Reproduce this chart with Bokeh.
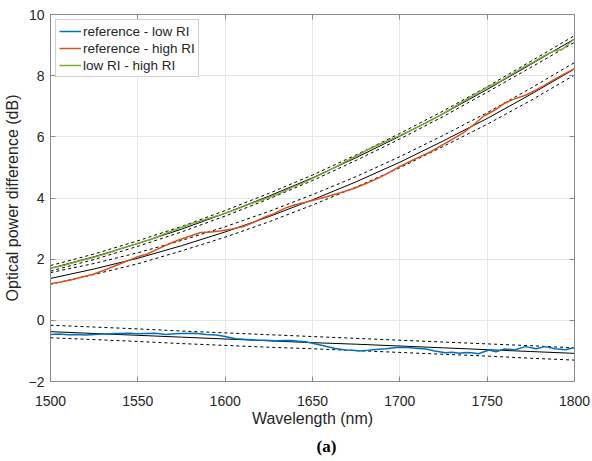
from bokeh.plotting import figure
from bokeh.models import LinearAxis, FixedTicker, Title, Legend, LegendItem
from bokeh.embed import file_html
from bokeh.resources import INLINE

# ---------------- data ----------------
x_ticks = [1500, 1550, 1600, 1650, 1700, 1750, 1800]
y_ticks = [-2, 0, 2, 4, 6, 8, 10]

blue_x = [1500, 1505, 1510, 1515, 1520, 1525, 1530, 1537, 1545, 1550, 1554, 1560, 1566, 1571,
          1575, 1583, 1589, 1595, 1600, 1606, 1611, 1617, 1623, 1629, 1634, 1638, 1642, 1646,
          1650, 1657, 1663, 1669, 1673, 1677, 1682, 1686, 1692, 1698, 1703, 1709, 1715, 1720,
          1726, 1730, 1734, 1738, 1741, 1745, 1751, 1755, 1760, 1766, 1772, 1778, 1783, 1789,
          1795, 1800]
blue_y = [-0.46, -0.45, -0.47, -0.46, -0.48, -0.46, -0.45, -0.43, -0.42, -0.44, -0.43, -0.42,
          -0.46, -0.44, -0.43, -0.42, -0.46, -0.48, -0.53, -0.60, -0.62, -0.64, -0.65, -0.67,
          -0.66, -0.66, -0.68, -0.70, -0.75, -0.84, -0.92, -0.97, -0.98, -1.00, -0.98, -0.95,
          -0.93, -0.89, -0.88, -0.91, -0.94, -1.00, -1.06, -1.04, -1.08, -1.05, -1.06, -1.09,
          -0.97, -1.03, -0.94, -0.96, -0.86, -0.93, -0.86, -0.93, -0.96, -0.89]

orange_x = [1500, 1506, 1512, 1518, 1524, 1530, 1536, 1542, 1549, 1555, 1561, 1567, 1573, 1580,
            1586, 1592, 1598, 1604, 1610, 1616, 1622, 1628, 1634, 1640, 1646, 1652, 1658, 1666,
            1674, 1681, 1688, 1694, 1700, 1706, 1712, 1718, 1724, 1730, 1736, 1742, 1748, 1754,
            1760, 1766, 1772, 1777, 1782, 1788, 1794, 1800]
orange_y = [1.20, 1.25, 1.33, 1.42, 1.50, 1.62, 1.76, 1.90, 2.06, 2.16, 2.32, 2.48, 2.62, 2.76,
            2.87, 2.89, 2.93, 2.99, 3.06, 3.20, 3.36, 3.49, 3.66, 3.78, 3.86, 3.95, 4.04, 4.17,
            4.32, 4.48, 4.66, 4.84, 5.03, 5.20, 5.36, 5.52, 5.72, 5.92, 6.12, 6.38, 6.68, 6.86,
            7.10, 7.25, 7.36, 7.50, 7.66, 7.86, 8.05, 8.23]

green_x = [1500, 1508, 1516, 1525, 1533, 1541, 1549, 1558, 1566, 1574, 1582, 1590, 1598, 1606,
           1614, 1622, 1630, 1638, 1644, 1650, 1658, 1666, 1674, 1681, 1690, 1700, 1708, 1716,
           1723, 1730, 1737, 1744, 1750, 1757, 1764, 1771, 1777, 1783, 1788, 1793, 1797, 1800]
green_y = [1.70, 1.80, 1.93, 2.06, 2.20, 2.36, 2.50, 2.66, 2.84, 3.02, 3.18, 3.32, 3.46, 3.62,
           3.80, 3.96, 4.12, 4.34, 4.48, 4.64, 4.86, 5.10, 5.34, 5.56, 5.80, 6.04, 6.26, 6.48,
           6.70, 6.94, 7.18, 7.42, 7.62, 7.80, 8.04, 8.28, 8.46, 8.66, 8.80, 8.86, 9.06, 9.20]

fit_x = [1500, 1525, 1550, 1575, 1600, 1625, 1650, 1675, 1700, 1725, 1750, 1775, 1800]
green_fit = [1.70, 2.08, 2.51, 2.98, 3.50, 4.06, 4.66, 5.32, 6.02, 6.76, 7.55, 8.37, 9.20]
green_up = [1.79, 2.17, 2.60, 3.07, 3.59, 4.15, 4.75, 5.41, 6.11, 6.85, 7.64, 8.47, 9.31]
green_lo = [1.61, 1.99, 2.42, 2.89, 3.41, 3.97, 4.57, 5.23, 5.93, 6.67, 7.46, 8.27, 9.09]
orange_fit = [1.37, 1.68, 2.03, 2.44, 2.89, 3.39, 3.94, 4.53, 5.17, 5.87, 6.60, 7.39, 8.22]
orange_up = [1.56, 1.86, 2.21, 2.61, 3.06, 3.56, 4.11, 4.70, 5.35, 6.05, 6.79, 7.59, 8.43]
orange_lo = [1.18, 1.50, 1.85, 2.27, 2.72, 3.22, 3.77, 4.36, 4.99, 5.69, 6.41, 7.19, 8.02]
blue_fit = [-0.37, -0.43, -0.49, -0.55, -0.61, -0.67, -0.73, -0.78, -0.84, -0.90, -0.96, -1.02, -1.08]
blue_up = [-0.16, -0.22, -0.28, -0.35, -0.41, -0.47, -0.53, -0.59, -0.65, -0.71, -0.77, -0.83, -0.90]
blue_lo = [-0.57, -0.63, -0.69, -0.76, -0.82, -0.88, -0.93, -0.99, -1.05, -1.11, -1.17, -1.24, -1.30]

labels = ["reference - low RI", "reference - high RI", "low RI - high RI"]
colors = ["#0072BD", "#D95319", "#77AC30"]

# ---------------- figure ----------------
axis_col = "#8a8a8a"
text_col = "#262626"
font = "Liberation Sans"

p = figure(frame_width=524, frame_height=367, x_range=(1500, 1800), y_range=(-2, 10),
           output_backend="svg", toolbar_location=None,
           min_border_left=10, min_border_right=18, min_border_top=14, min_border_bottom=10)
p.outline_line_color = None
p.background_fill_color = "white"
p.border_fill_color = "white"

for g in (p.xgrid, p.ygrid):
    g.grid_line_color = "#e6e6e6"
    g.grid_line_width = 1
p.xgrid.ticker = FixedTicker(ticks=x_ticks)
p.ygrid.ticker = FixedTicker(ticks=y_ticks)

def style_axis(ax, ticks, labels_on=True):
    ax.ticker = FixedTicker(ticks=ticks)
    ax.axis_line_color = axis_col
    ax.major_tick_line_color = axis_col
    ax.major_tick_in = 5
    ax.major_tick_out = 0
    ax.minor_tick_line_color = None
    ax.major_label_text_font = font
    ax.major_label_text_font_size = "14px"
    ax.major_label_text_color = text_col
    if not labels_on:
        ax.major_label_overrides = {t: "" for t in ticks}
    ax.axis_label_text_font = font
    ax.axis_label_text_font_size = "16px"
    ax.axis_label_text_font_style = "normal"
    ax.axis_label_text_color = text_col

style_axis(p.xaxis[0], x_ticks)
style_axis(p.yaxis[0], y_ticks)
p.xaxis[0].axis_label = "Wavelength (nm)"
p.yaxis[0].axis_label = "Optical power difference (dB)"
p.xaxis[0].major_label_standoff = 14
p.xaxis[0].axis_label_standoff = 1
p.yaxis[0].major_label_standoff = 6
p.yaxis[0].axis_label_standoff = 5

top_ax = LinearAxis()
style_axis(top_ax, x_ticks, labels_on=False)
top_ax.major_label_standoff = 0
p.add_layout(top_ax, "above")
right_ax = LinearAxis()
style_axis(right_ax, y_ticks, labels_on=False)
right_ax.major_label_standoff = 0
p.add_layout(right_ax, "right")

# fits and bounds
for fit, up, lo in ((blue_fit, blue_up, blue_lo),
                    (orange_fit, orange_up, orange_lo),
                    (green_fit, green_up, green_lo)):
    p.line(fit_x, fit, line_color="black", line_width=1)
    p.line(fit_x, up, line_color="black", line_width=1, line_dash="3 3")
    p.line(fit_x, lo, line_color="black", line_width=1, line_dash="3 3")

r_blue = p.line(blue_x, blue_y, line_color=colors[0], line_width=1.5)
r_orange = p.line(orange_x, orange_y, line_color=colors[1], line_width=1.5)
r_green = p.line(green_x, green_y, line_color=colors[2], line_width=1.5)

legend = Legend(items=[LegendItem(label=labels[0], renderers=[r_blue]),
                       LegendItem(label=labels[1], renderers=[r_orange]),
                       LegendItem(label=labels[2], renderers=[r_green])],
                location="top_left")
legend.margin = 5
legend.padding = 3
legend.spacing = 1
legend.glyph_width = 22
legend.glyph_height = 16
legend.label_height = 16
legend.label_standoff = 2
legend.label_text_font = font
legend.label_text_font_size = "13.5px"
legend.label_text_color = text_col
legend.border_line_color = "#a0a0a0"
legend.border_line_width = 1
legend.background_fill_color = "white"
legend.background_fill_alpha = 1
p.add_layout(legend, "center")

cap = Title(text="(a)", align="left", offset=266, text_font="Liberation Serif",
            text_font_style="bold", text_font_size="17px", text_color="black")
p.add_layout(cap, "below")

open("out.html", "w").write(file_html(p, INLINE))
